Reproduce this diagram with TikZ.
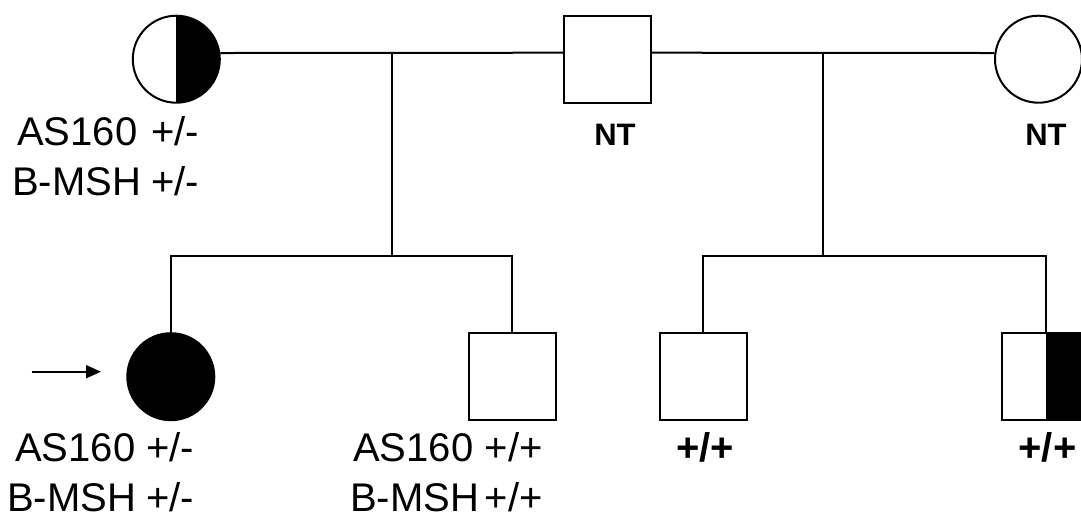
\documentclass[tikz,border=0pt]{standalone}
\usepackage{fontspec}
\setmainfont{Liberation Sans}
\usetikzlibrary{arrows.meta}
\tikzset{
  ind/.style={draw=black, line width=2pt, minimum size=87pt, inner sep=0pt, fill=white},
  male/.style={ind, rectangle},
  female/.style={ind, circle},
  halfright/.style={path picture={\fill[black] (path picture bounding box.north) rectangle (path picture bounding box.south east);}},
  full/.style={fill=black},
  lbl/.style={inner sep=0pt, anchor=base west, font=\fontsize{40}{48}\selectfont},
  nt/.style={inner sep=0pt, anchor=base, font=\fontsize{31}{36}\selectfont\bfseries},
  gt/.style={inner sep=0pt, anchor=base, font=\fontsize{40}{48}\selectfont\bfseries},
  ln/.style={line width=2pt, black},
}
\begin{document}
\begin{tikzpicture}[x=1pt, y=-1pt]
\useasboundingbox[fill=white] (0,0) rectangle (1081,515);
% generation I
\node[female, halfright] (p1) at (176.3,59.2) {};
\node[male] (f) at (607.5,59.2) {};
\node[female] (m) at (1038.5,59.2) {};
% generation II
\node[female, full] (c1) at (170.8,376.7) {};
\node[male] (c2) at (512.2,376.2) {};
\node[male] (c3) at (703.3,376.2) {};
\node[male, halfright] (c4) at (1045.5,376.2) {};
% mating lines
\coordinate (m1) at (391.7,52.7);
\coordinate (m2) at (823.3,52.7);
\coordinate (s1) at (391.7,255.7);
\coordinate (s2) at (823.3,255.7);
\draw[ln] (p1.8) -- ([yshift=6.5pt]f.west);
\draw[ln] ([yshift=6.5pt]f.east) -- (m.172);
\draw[ln] (m1) -- (s1);
\draw[ln] (m2) -- (s2);
\draw[ln] (c1.north) |- (s1) -| (c2.north);
\draw[ln] (c3.north) |- (s2) -| (c4.north);
% proband arrow
\coordinate (a0) at (31.7,371.7);
\coordinate (a1) at (101,371.7);
\draw[ln, -{Triangle[length=15pt,width=13pt]}] (a0) -- (a1);
% labels
\node[lbl] (t1a) at (17,145) {AS160};
\node[lbl] (t1b) at (151,145) {+/-};
\node[lbl] (t2a) at (12,195) {B-MSH};
\node[lbl] (t2b) at (151,195) {+/-};
\node[nt] (nt1) at (615,145) {NT};
\node[nt] (nt2) at (1046,145) {NT};
\node[lbl] (b1a) at (15,461.7) {AS160};
\node[lbl] (b1b) at (146,461.7) {+/-};
\node[lbl] (b2a) at (7,511) {B-MSH};
\node[lbl] (b2b) at (146,511) {+/-};
\node[lbl] (c1a) at (353,461.7) {AS160};
\node[lbl] (c1b) at (484.7,461.7) {+/+};
\node[lbl] (c2a) at (350,511) {B-MSH};
\node[lbl] (c2b) at (484.7,511) {+/+};
\node[gt] (g3) at (705,461.7) {+/+};
\node[gt] (g4) at (1047.5,461.7) {+/+};
\end{tikzpicture}
\end{document}
